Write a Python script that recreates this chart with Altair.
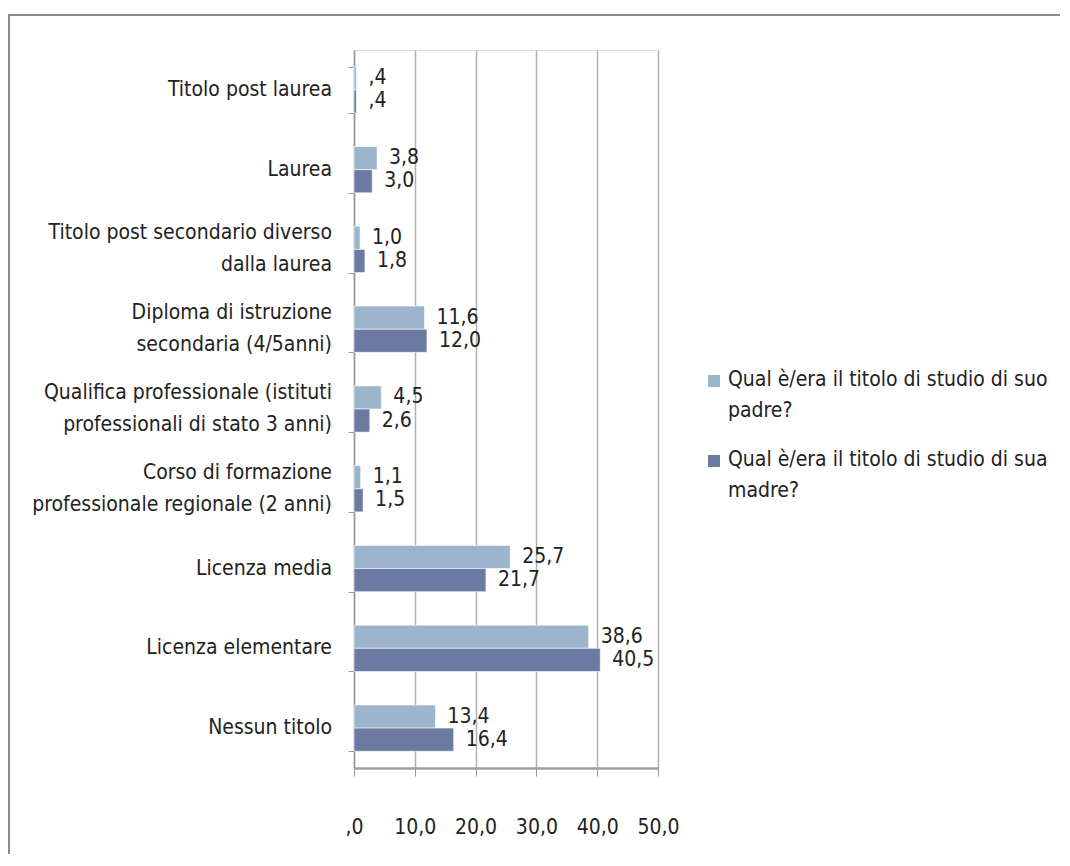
import altair as alt
import pandas as pd

categories = [
    "Titolo post laurea",
    "Laurea",
    "Titolo post secondario diverso|dalla laurea",
    "Diploma di istruzione|secondaria (4/5anni)",
    "Qualifica professionale (istituti|professionali di stato 3 anni)",
    "Corso di formazione|professionale regionale (2 anni)",
    "Licenza media",
    "Licenza elementare",
    "Nessun titolo",
]
series = [
    "Qual è/era  il titolo di studio di suo|padre?",
    "Qual è/era  il titolo di studio di sua|madre?",
]
padre = [0.4, 3.8, 1.0, 11.6, 4.5, 1.1, 25.7, 38.6, 13.4]
madre = [0.4, 3.0, 1.8, 12.0, 2.6, 1.5, 21.7, 40.5, 16.4]
colors = ["#9cb5cd", "#6c79a1"]
x_ticks = [0, 10, 20, 30, 40, 50]


def fmt(v):
    s = f"{v:.1f}".replace(".", ",")
    return s[1:] if s.startswith("0") else s


rows = []
for c, p, m in zip(categories, padre, madre):
    rows.append({"cat": c, "serie": series[0], "val": p, "lab": fmt(p)})
    rows.append({"cat": c, "serie": series[1], "val": m, "lab": fmt(m)})
df = pd.DataFrame(rows)

cat_df = pd.DataFrame({"cat": categories})

FONT = "DejaVu Sans Condensed, Liberation Sans Narrow, sans-serif"
TXT = "#222222"

y_enc = alt.Y(
    "cat:N",
    sort=categories,
    scale=alt.Scale(paddingInner=0.42, paddingOuter=0.21),
    axis=alt.Axis(
        title=None,
        labels=False,
        tickBand="extent",
        tickOffset=16,
        tickSize=6,
        tickColor="#999999",
        domainColor="#999999",
        domainWidth=1.5,
        grid=False,
    ),
)
yoff = alt.YOffset("serie:N", sort=series)

base = alt.Chart(df)

bars = base.mark_bar(stroke="white", strokeWidth=0.6).encode(
    x=alt.X(
        "val:Q",
        scale=alt.Scale(domain=[0, 50], nice=False),
        axis=alt.Axis(
            title=None,
            values=x_ticks,
            labelExpr="replace(replace(format(datum.value, '.1f'), '.', ','), /^0/, '')",
            labelFont=FONT,
            labelFontSize=21,
            labelColor=TXT,
            labelPadding=40,
            labelOverlap=False,
            labelFlush=False,
            tickSize=8,
            tickColor="#999999",
            domainColor="#a0a0a0",
            domainWidth=2.5,
            gridColor="#b0b0b0",
            gridWidth=1.5,
        ),
    ),
    y=y_enc,
    yOffset=yoff,
    color=alt.Color(
        "serie:N",
        sort=series,
        scale=alt.Scale(domain=series, range=colors),
        legend=None,
    ),
)

labels = base.mark_text(
    align="left", baseline="middle", dx=12, font=FONT, fontSize=21, color=TXT
).encode(
    x="val:Q",
    y=alt.Y("cat:N", sort=categories),
    yOffset=yoff,
    text="lab:N",
)

# category labels (multi-line, block centred on the band)
cat_base = alt.Chart(cat_df).transform_calculate(
    lines="split(datum.cat, '|')", n="length(split(datum.cat, '|'))"
)
cat_one = cat_base.transform_filter("datum.n == 1").mark_text(
    align="right", baseline="middle", font=FONT, fontSize=21, color=TXT,
    lineHeight=32,
).encode(x=alt.value(-22), y=alt.Y("cat:N", sort=categories), text="lines:N")
cat_two = cat_base.transform_filter("datum.n == 2").mark_text(
    align="right", baseline="middle", font=FONT, fontSize=21, color=TXT,
    lineHeight=32, dy=-16,
).encode(x=alt.value(-22), y=alt.Y("cat:N", sort=categories), text="lines:N")

# manual legend (multi-line labels with Excel-like line spacing)
legend_layers = []
for i, (s, col) in enumerate(zip(series, colors)):
    ldata = alt.Data(values=[{"name": s}])
    legend_layers.append(
        alt.Chart(ldata)
        .mark_square(size=144, color=col, opacity=1)
        .encode(x=alt.value(360), y=alt.value(331 + i * 80))
    )
    legend_layers.append(
        alt.Chart(ldata)
        .transform_calculate(lines="split(datum.name, '|')")
        .mark_text(
            align="left", baseline="middle", font=FONT, fontSize=21,
            color=TXT, lineHeight=31,
        )
        .encode(x=alt.value(374), y=alt.value(330 + i * 80), text="lines:N")
    )

frame = alt.Chart(alt.Data(values=[{"a": 1}])).mark_rect(
    fill=None, stroke="#8c8c8c", strokeWidth=2
).encode(
    x=alt.value(-345), x2=alt.value(760), y=alt.value(-35), y2=alt.value(860)
)

chart = (
    alt.layer(frame, bars, labels, cat_one, cat_two, *legend_layers)
    .properties(
        width=304,
        height=718,
        autosize=alt.AutoSizeParams(type="none"),
        padding={"left": 346, "top": 42, "right": 402, "bottom": 86},
    )
    .configure_view(stroke=None)
    .configure(background="white")
)

chart.save("out.html", embed_options={"renderer": "svg", "actions": False})
